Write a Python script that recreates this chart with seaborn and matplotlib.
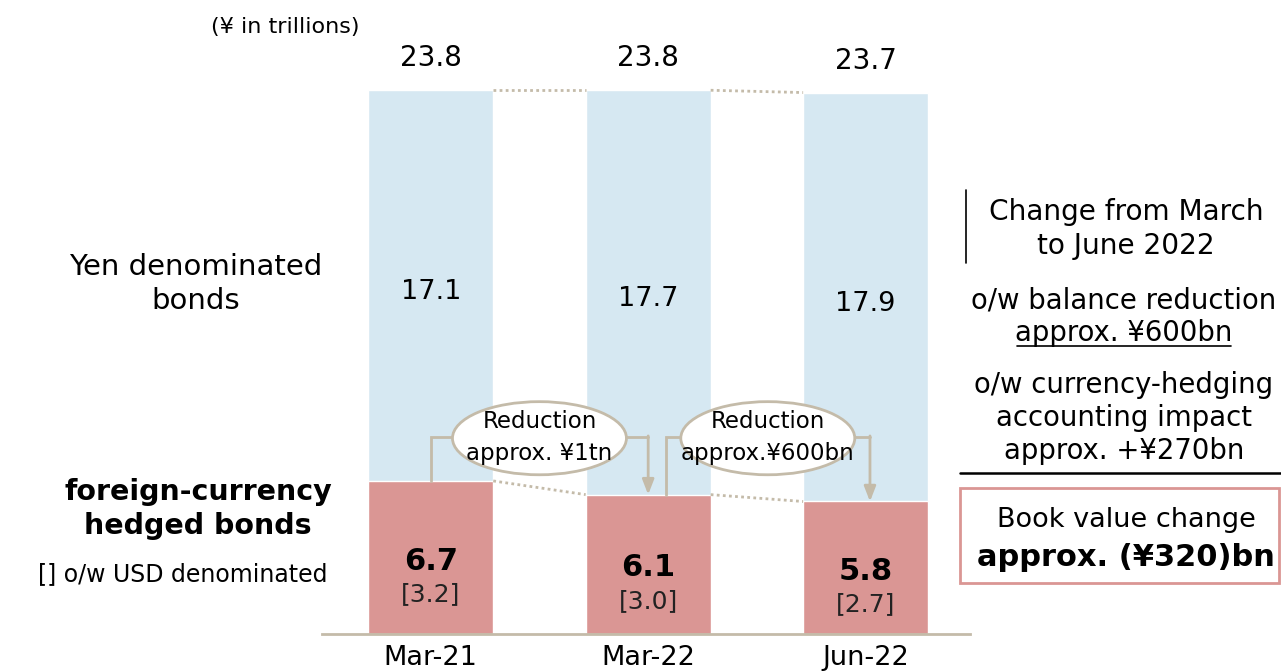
import matplotlib
matplotlib.use('Agg')
import matplotlib.pyplot as plt
import seaborn as sns
import pandas as pd
from matplotlib.patches import Ellipse, Rectangle

# data (¥ trillions)
periods = ['Mar-21', 'Mar-22', 'Jun-22']
yen_bonds = [17.1, 17.7, 17.9]
fx_hedged = [6.7, 6.1, 5.8]
usd_part = [3.2, 3.0, 2.7]
totals = [23.8, 23.8, 23.7]
reductions = ['Reduction\napprox. ¥1tn', 'Reduction\napprox.¥600bn']

blue = '#D6E8F2'
pink = '#DA9694'
tan = '#C4BBA9'

sns.set_style('white')
plt.rcParams['font.family'] = ['DejaVu Sans']
plt.rcParams['text.color'] = 'black'

W, H = 1281, 671
fig = plt.figure(figsize=(W / 100, H / 100), dpi=100)

def fx(px):
    return px / W

def fy(py):
    return 1 - py / H

ax = fig.add_axes([fx(322), fy(634), fx(970) - fx(322), fy(40) - fy(634)])

df = pd.DataFrame({'period': periods, 'total': totals, 'fx': fx_hedged})
bw = 0.575
sns.barplot(data=df, x='period', y='total', color=blue, width=bw, saturation=1,
            edgecolor='white', linewidth=1, ax=ax)
sns.barplot(data=df, x='period', y='fx', color=pink, width=bw, saturation=1,
            edgecolor='white', linewidth=1, ax=ax)

ax.set_xlim(-0.5, 2.48)
ax.set_ylim(0, 26)
ax.set_xlabel('')
ax.set_ylabel('')
ax.set_yticks([])
for s in ['top', 'right', 'left']:
    ax.spines[s].set_visible(False)
ax.spines['bottom'].set_color(tan)
ax.spines['bottom'].set_linewidth(2)
ax.tick_params(axis='x', length=0, labelsize=19.5, pad=8, labelcolor='black')

# value labels
for i in range(3):
    ax.text(i, totals[i] + 1.4, f'{totals[i]:.1f}', ha='center', va='center', fontsize=20)
    ax.text(i, fx_hedged[i] + yen_bonds[i] / 2 - 0.3, f'{yen_bonds[i]:.1f}',
            ha='center', va='center', fontsize=19.5)
    ax.text(i, fx_hedged[i] * 0.475, f'{fx_hedged[i]:.1f}', ha='center', va='center',
            fontsize=22, fontweight='bold')
    ax.text(i, fx_hedged[i] * 0.475 - 1.45, f'[{usd_part[i]:.1f}]', ha='center',
            va='center', fontsize=18, color='#222222')

# dotted connectors between bars
half = bw / 2
for i in range(2):
    ax.plot([i + half, i + 1 - half], [totals[i], totals[i + 1]], ls=(0, (1, 1.2)),
            color=tan, lw=2)
    ax.plot([i + half, i + 1 - half], [fx_hedged[i], fx_hedged[i + 1]], ls=(0, (1, 1.2)),
            color=tan, lw=2)

# reduction arrows and ellipses
yline = 8.62
starts = [0.0, 1.08]
ends = [1.0, 2.02]
for k in range(2):
    ax.plot([starts[k], starts[k], ends[k]], [fx_hedged[k], yline, yline],
            color=tan, lw=2, solid_joinstyle='miter')
    ax.annotate('', xy=(ends[k], fx_hedged[k + 1]), xytext=(ends[k], yline + 0.05),
                arrowprops=dict(arrowstyle='-|>,head_width=0.35,head_length=0.9',
                                color=tan, lw=2, shrinkA=0, shrinkB=0))
    cx = 0.50 + 1.05 * k
    ax.add_patch(Ellipse((cx, 8.57), 0.80, 3.2, facecolor='white', edgecolor=tan,
                         lw=2, zorder=5))
    ax.text(cx, 8.6, reductions[k], ha='center', va='center', fontsize=16.5,
            linespacing=1.45, zorder=6)

# left side labels
fig.text(fx(285), fy(27), '(¥ in trillions)', ha='center', va='center', fontsize=16)
fig.text(fx(196), fy(284), 'Yen denominated\nbonds', ha='center', va='center',
         fontsize=21, linespacing=1.23)
fig.text(fx(198), fy(509), 'foreign-currency\nhedged bonds', ha='center', va='center',
         fontsize=20.5, fontweight='bold', linespacing=1.25)
fig.text(fx(183), fy(574), '[] o/w USD denominated', ha='center', va='center', fontsize=17)

# right side panel
fig.add_artist(plt.Line2D([fx(966), fx(966)], [fy(190), fy(263)], color='black', lw=1.2))
fig.text(fx(1126), fy(229), 'Change from March\nto June 2022', ha='center', va='center',
         fontsize=20.2, linespacing=1.24)
fig.text(fx(1124), fy(300), 'o/w balance reduction', ha='center', va='center', fontsize=19.8)
fig.text(fx(1124), fy(333), 'approx. ¥600bn', ha='center', va='center', fontsize=19.8)
fig.add_artist(plt.Line2D([fx(1017), fx(1231)], [fy(346), fy(346)], color='black', lw=1.2))
fig.text(fx(1124), fy(418), 'o/w currency-hedging\naccounting impact\napprox. +¥270bn',
         ha='center', va='center', fontsize=19.8, linespacing=1.21)
fig.add_artist(plt.Line2D([fx(960), fx(1281)], [fy(473), fy(473)], color='black', lw=1.8))
fig.add_artist(Rectangle((fx(960), fy(583)), fx(1279) - fx(960), fy(488) - fy(583),
                         transform=fig.transFigure, facecolor='white', edgecolor=pink,
                         lw=2))
fig.text(fx(1126), fy(520), 'Book value change', ha='center', va='center', fontsize=19.5)
fig.text(fx(1126), fy(557), 'approx. (¥320)bn', ha='center', va='center', fontsize=22,
         fontweight='bold')

fig.savefig('out.png', dpi=100)
